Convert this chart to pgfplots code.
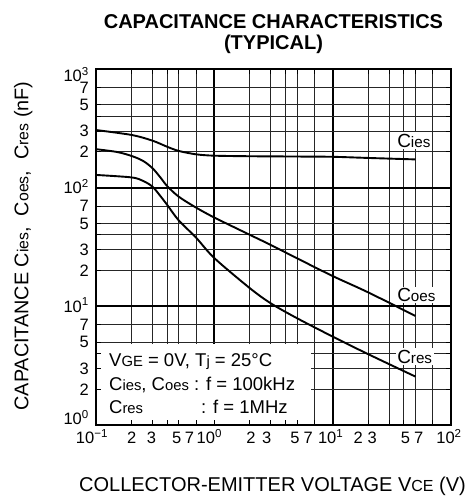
\documentclass[border=0pt]{standalone}
\usepackage{fontspec}
\setmainfont{Liberation Sans}
\usepackage{pgfplots}
\usepackage{pgfplotstable}
\pgfplotsset{compat=1.18}
\makeatletter
\newcommand\sub[1]{{\fontsize{\the\dimexpr 0.8\dimexpr\f@size pt\relax\relax}{0pt}\selectfont #1}}
\makeatother
\newcommand\xl[2]{\makebox[0pt]{\hspace*{#1pt}#2\hspace*{-#1pt}}}

\pgfplotstableread{
x y
0.1 306
0.2 278
0.3 249
0.4 221
0.5 204
0.7 191
1 186
2 184
5 183
10 182
20 178
50 173
}\cies
\pgfplotstableread{
x y
0.1 211
0.15 200
0.2 185
0.25 168
0.3 146
0.35 122
0.4 103
0.5 84
0.7 68
1 56
2 40
3 32.9
5 25.4
10 18
20 13.1
50 8.3
}\coes
\pgfplotstableread{
x y
0.1 128
0.2 122
0.25 114
0.3 102
0.35 85
0.4 71.5
0.5 53
0.7 38
1 25.5
2 14.2
3 10.6
5 7.94
10 5.56
20 3.95
50 2.56
}\cres

\begin{document}
\begin{tikzpicture}
% grid + curves
\begin{axis}[
  at={(0pt,0pt)}, anchor=south west, scale only axis,
  width=355pt, height=356pt,
  xmode=log, ymode=log, xmin=0.1, xmax=100, ymin=1, ymax=1000,
  xtick={0.1,1,10,100}, ytick={1,10,100,1000},
  minor xtick={0.2,0.3,0.4,0.5,0.7,2,3,4,5,7,20,30,40,50,70},
  minor ytick={2,3,4,5,7,20,30,40,50,70,200,300,400,500,700},
  xticklabels={}, yticklabels={},
  grid=both,
  major grid style={black, line width=1.8pt},
  minor grid style={black!85, line width=0.9pt},
  major tick length=0pt, minor tick length=0pt,
  axis line style={draw=none},
  clip=false,
]
\coordinate (SW) at (rel axis cs:0,0);
\coordinate (NE) at (rel axis cs:1,1);
\addplot[black, line width=1.9pt, smooth] table {\cies};
\addplot[black, line width=1.9pt, smooth] table {\coes};
\addplot[black, line width=1.9pt, smooth] table {\cres};
\node[fill=white, inner sep=1.5pt, anchor=base west, font=\fontsize{19}{20}\selectfont] at (axis cs:34,219) {C\sub{ies}};
\node[fill=white, inner sep=1.5pt, anchor=base west, font=\fontsize{19}{20}\selectfont] at (axis cs:34,10.95) {C\sub{oes}};
\node[fill=white, inner sep=1.5pt, anchor=base west, font=\fontsize{19}{20}\selectfont] at (axis cs:34,3.32) {C\sub{res}};
\end{axis}
% condition box
\begin{scope}[shift={(SW)}]
\fill[white] (0pt,0pt) rectangle (215pt,81.5pt);
\begin{scope}[every node/.style={anchor=base west, inner sep=0pt, font=\fontsize{18.5}{20}\selectfont}]
\node at (13pt,58.3pt) {V\sub{GE} = 0V, T\sub{j} = 25°C};
\node at (13pt,35pt) {C\sub{ies}, C\sub{oes} : f = 100kHz};
\node at (13pt,11.7pt) {C\sub{res}};
\node at (105pt,11.7pt) {: f = 1MHz};
\end{scope}
\end{scope}
% ticks + frame
\begin{axis}[
  at={(0pt,0pt)}, anchor=south west, scale only axis,
  width=355pt, height=356pt,
  xmode=log, ymode=log, xmin=0.1, xmax=100, ymin=1, ymax=1000,
  xtick={0.1,0.2,0.3,0.5,0.7,1,2,3,5,7,10,20,30,50,70,100},
  ytick={1,2,3,5,7,10,20,30,50,70,100,200,300,500,700,1000},
  minor xtick={0.4,4,40}, minor ytick={4,40,400},
  xticklabels={\xl{-4}{10\textsuperscript{−1}},\xl{0}{2},\xl{-1}{3},\xl{-2}{5},\xl{-6.5}{7},\xl{-5}{10\textsuperscript{0}},\xl{1}{2},\xl{-4}{3},\xl{-2}{5},\xl{-6}{7},\xl{-2}{10\textsuperscript{1}},\xl{-10}{2},\xl{-17}{3},\xl{-10}{5},\xl{-14}{7},\xl{-2}{10\textsuperscript{2}}},
  yticklabels={\raisebox{5.8pt}{10\textsuperscript{0}},2,3,5,7,10\textsuperscript{1},2,3,5,7,10\textsuperscript{2},2,3,5,7,\raisebox{-7pt}{10\textsuperscript{3}}},
  xticklabel style={anchor=base, inner sep=0pt, yshift=-18.3pt, font=\fontsize{16.5}{18}\selectfont},
  yticklabel style={anchor=base east, inner sep=0pt, xshift=-7pt, yshift=-5.8pt, font=\fontsize{16.5}{18}\selectfont},
  major tick length=5pt, minor tick length=5pt,
  tick style={black, line width=0.9pt},
  axis line style={black, line width=2.8pt},
]
\end{axis}
% titles and labels
\begin{scope}[shift={(SW)}]
\node[anchor=base, font=\fontsize{20}{21}\selectfont\bfseries] at (177.5pt,396.7pt) {CAPACITANCE CHARACTERISTICS};
\node[anchor=base, font=\fontsize{20}{21}\selectfont\bfseries] at (177.5pt,375.7pt) {(TYPICAL)};
\node[anchor=base, font=\fontsize{20}{21}\selectfont] at (176.5pt,-66.7pt) {COLLECTOR-EMITTER VOLTAGE V\sub{CE} (V)};
\node[anchor=base, rotate=90, font=\fontsize{19.8}{21}\selectfont] at (-67.7pt,179pt) {CAPACITANCE C\sub{ies},~ C\sub{oes},~ C\sub{res} (nF)};
\end{scope}
\pgfresetboundingbox
\path[use as bounding box] ([shift={(-96pt,-72pt)}]SW) rectangle ([shift={(24pt,69pt)}]NE);
\end{tikzpicture}
\end{document}
